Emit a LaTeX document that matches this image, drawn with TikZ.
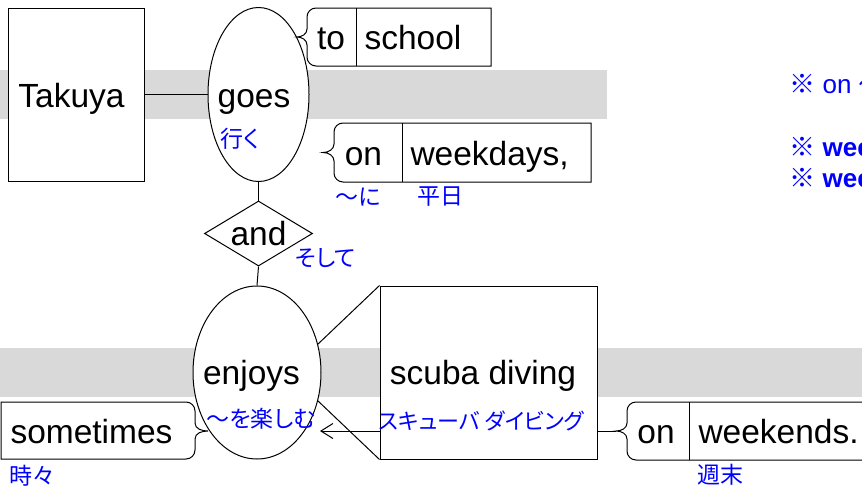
\documentclass[tikz,border=0pt]{standalone}
\usepackage{fontspec}
\setmainfont{Liberation Sans}
\newfontfamily\jp[RawFeature=+palt]{Noto Sans CJK JP}
\usetikzlibrary{shapes.geometric,arrows.meta}
\definecolor{band}{RGB}{217,217,217}
\definecolor{jblue}{RGB}{0,0,255}
\begin{document}
\begin{tikzpicture}[x=1pt,y=-1pt,line width=1pt,
  en/.style={font=\fontsize{33.5}{40}\selectfont, inner sep=0, anchor=base},
  ja/.style={font=\jp\fontsize{23}{26}\selectfont, text=jblue, inner sep=0},
  note/.style={font=\fontsize{26}{30}\selectfont, text=jblue, inner sep=0, anchor=base west},
  box/.style={draw, fill=white, inner sep=0},
  ell/.style={ellipse, draw, fill=white, inner sep=0},
  dia/.style={diamond, draw, fill=white, inner sep=0},
  brbox/.style={draw, fill=white}]
\useasboundingbox (0,0) rectangle (862,490);
% bands
\fill[band] (0,70) rectangle (607,119);
\fill[band] (0,348) rectangle (862,397);
% main shapes
\node[box, minimum width=135.5, minimum height=173] (takuya) at (76.25,94.5) {};
\node[ell, minimum width=101, minimum height=174] (goes) at (258.5,94.5) {};
\node[dia, minimum width=108, minimum height=65] (and) at (258.5,233.5) {};
\node[ell, minimum width=128, minimum height=173] (enjoys) at (257,372.5) {};
\node[box, minimum width=217, minimum height=173] (scuba) at (488.5,372.5) {};
% braced boxes
\coordinate (schooltip) at (297,37);
\draw[brbox] (491,8) -- (316,8) to[out=180,in=90] (307,17) -- (307,29) to[out=-90,in=0] (schooltip)
  to[out=0,in=90] (307,45) -- (307,57) to[out=-90,in=180] (316,66) -- (491,66) -- cycle;
\draw (356,8) -- (356,66);
\coordinate (wkdtip) at (323,152.5);
\draw[brbox] (591,123) -- (343,123) to[out=180,in=90] (334,132) -- (334,144) to[out=-90,in=0] (wkdtip)
  to[out=0,in=90] (334,161) -- (334,173) to[out=-90,in=180] (343,182) -- (591,182) -- cycle;
\draw (402,123) -- (402,182);
\coordinate (wkndtip) at (616,431);
\draw[brbox] (862,402) -- (636,402) to[out=180,in=90] (627,411) -- (627,423) to[out=-90,in=0] (wkndtip)
  to[out=0,in=90] (627,439) -- (627,451) to[out=-90,in=180] (636,460) -- (862,460);
\draw (689,402) -- (689,460);
\coordinate (sometip) at (208,431);
\draw[brbox] (1,402) -- (186,402) to[out=0,in=90] (195,411) -- (195,423) to[out=-90,in=180] (sometip)
  to[out=180,in=90] (195,439) -- (195,450) to[out=-90,in=0] (186,459) -- (1,459) -- cycle;
% connectors
\draw (takuya) -- (goes);
\draw (goes.south) -- (and.north);
\draw (and.south) -- (enjoys.north);
\draw (scuba.north west) -- (enjoys.25);
\draw (scuba.south west) -- (enjoys.-25);
\coordinate (arrtip) at (320,431);
\draw[-{Straight Barb[length=12pt,width=15pt]}] (scuba.west |- arrtip) -- (arrtip);
\draw (scuba.east |- wkndtip) -- (wkndtip);
% texts
\node[en] (tTakuya) at (71.5,107) {Takuya};
\node[en] (tgoes) at (254,107) {goes};
\node[ja] (jgoes) at (240,139) {行く};
\node[en] (tto) at (331,49) {to};
\node[en] (tschool) at (413,49) {school};
\node[en] (ton1) at (363.5,165) {on};
\node[en, anchor=base west] (twkd) at (410,165) {weekdays,};
\node[ja] (jni) at (358,197) {〜に};
\node[ja] (jheijitsu) at (440,197) {平日};
\node[en] (tand) at (258.5,245) {and};
\node[ja] (jsoshite) at (325.5,258) {そして};
\node[en] (tenjoys) at (251.5,384) {enjoys};
\node[ja] (jenjoys) at (261,419) {〜を楽しむ};
\node[en] (tscuba) at (483,384) {scuba diving};
\node[ja, font=\jp\fontsize{22}{26}\selectfont] (jscuba) at (481.5,421) {スキューバ ダイビング};
\node[en] (tsome) at (91.5,443) {sometimes};
\node[ja] (jsome) at (32,476) {時々};
\node[en] (ton2) at (656,443) {on};
\node[en, anchor=base west] (twknd) at (698,443) {weekends.};
\node[ja] (jshumatsu) at (720,475) {週末};
% notes (cut off at the right edge, as in the reference)
\node[note] (n1) at (789,93) {{\jp ※} on {\jp ～}};
\node[note] (n2) at (789,156) {{\jp ※} \bfseries weekdays};
\node[note] (n3) at (789,187) {{\jp ※} \bfseries weekends};
\end{tikzpicture}
\end{document}
